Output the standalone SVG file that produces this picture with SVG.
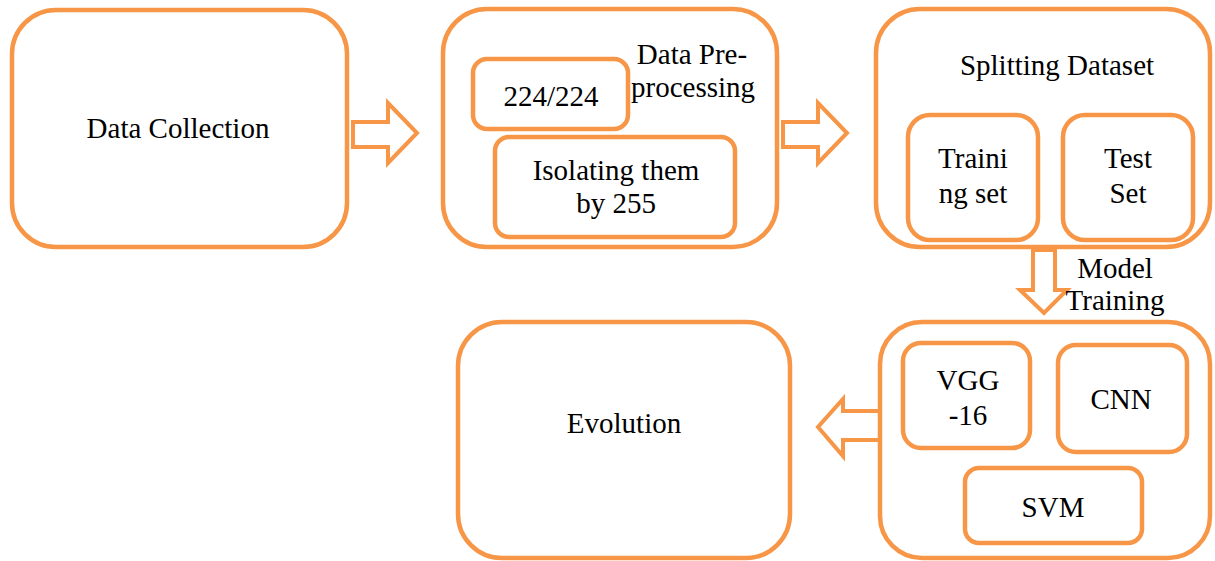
<svg xmlns="http://www.w3.org/2000/svg" width="1215" height="561" viewBox="0 0 1215 561">
<style>
.box{fill:#fff;stroke:#F79646;stroke-width:4.5}
.arr{fill:#fff;stroke:#F79646;stroke-width:4;stroke-linejoin:miter}
text{font-family:"Liberation Serif","Times New Roman",serif;font-size:29px;fill:#000;text-anchor:middle}
</style>
<rect width="1215" height="561" fill="#fff"/>
<g id="connectors">
<polygon class="arr" points="353,122 388,122 388,103 417,133 388,163 388,147 353,147"/>
<polygon class="arr" points="783,122 818,122 818,103 847,133 818,163 818,147 783,147"/>
<polygon class="arr" points="1033,250 1055,250 1055,290 1067,290 1044,313 1020,290 1033,290"/>
<polygon class="arr" points="880,411 843,411 843,399 818,427 843,456 843,440 880,440"/>
</g>
<g id="data-collection">
<rect class="box" x="12" y="10" width="335" height="237" rx="44"/>
<text x="178" y="138">Data Collection</text>
</g>
<g id="preprocessing">
<rect class="box" x="443" y="9" width="334" height="238" rx="44"/>
<text x="692" y="64">Data Pre-</text>
<text x="693" y="97">processing</text>
<g id="resize">
<rect class="box" x="473" y="59" width="155" height="70" rx="14"/>
<text x="551" y="106">224/224</text>
</g>
<g id="isolating">
<rect class="box" x="495" y="137" width="240" height="100" rx="14"/>
<text x="616" y="180">Isolating them</text>
<text x="616" y="213">by 255</text>
</g>
</g>
<g id="splitting">
<rect class="box" x="876" y="9" width="334" height="238" rx="44"/>
<text x="1057" y="75">Splitting Dataset</text>
<g id="training-set">
<rect class="box" x="908" y="115" width="130" height="125" rx="22"/>
<text x="973" y="168">Traini</text>
<text x="973" y="203">ng set</text>
</g>
<g id="test-set">
<rect class="box" x="1063" y="115" width="130" height="125" rx="22"/>
<text x="1128" y="168">Test</text>
<text x="1128" y="203">Set</text>
</g>
</g>
<g id="model-training-label">
<text x="1115" y="278">Model</text>
<text x="1115" y="310">Training</text>
</g>
<g id="model-training">
<rect class="box" x="880" y="322" width="330" height="236" rx="42"/>
<g id="vgg">
<rect class="box" x="903" y="343" width="127" height="105" rx="18"/>
<text x="968" y="390">VGG</text>
<text x="968" y="425">-16</text>
</g>
<g id="cnn">
<rect class="box" x="1058" y="345" width="129" height="107" rx="18"/>
<text x="1121" y="409">CNN</text>
</g>
<g id="svm">
<rect class="box" x="965" y="468" width="177" height="75" rx="14"/>
<text x="1053" y="517">SVM</text>
</g>
</g>
<g id="evolution">
<rect class="box" x="458" y="322" width="332" height="236" rx="44"/>
<text x="624" y="433">Evolution</text>
</g>
</svg>
